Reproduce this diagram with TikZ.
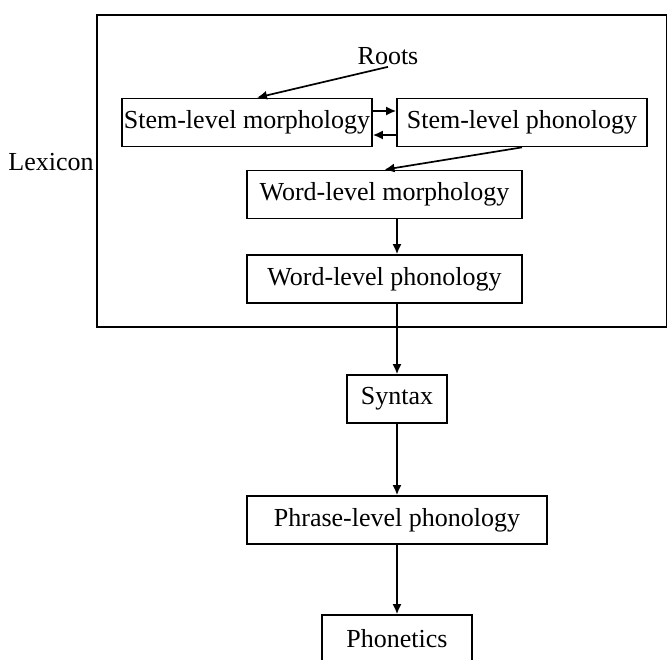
\documentclass[tikz,border=0pt]{standalone}
\usepackage{fontspec}
\setmainfont{Liberation Serif}
\usetikzlibrary{arrows.meta}
\begin{document}
\begin{tikzpicture}[x=1pt,y=-1pt,
    lvl/.style={draw,line width=1.7pt,inner sep=0pt,font=\fontsize{26}{30}\selectfont},
    lbl/.style={inner sep=2pt,font=\fontsize{26}{30}\selectfont},
    flow/.style={-{Latex[length=10pt,width=9pt]},line width=1.7pt}]
  \useasboundingbox (0,0) rectangle (667,659);
  % the lexicon frame
  \draw[line width=1.7pt] (97,15) rectangle (667,327);
  \node[lbl] (lexicon) at (51,162) {Lexicon};
  \node[lbl] (roots) at (388,56) {Roots};
  \node[lvl,minimum width=250pt,minimum height=48pt] (stemmorph) at (247,122.5) {Stem-level morphology};
  \node[lvl,minimum width=250pt,minimum height=48pt] (stemphon) at (522,122.5) {Stem-level phonology};
  \node[lvl,minimum width=275pt,minimum height=48pt] (wordmorph) at (384.5,194.5) {Word-level morphology};
  \node[lvl,minimum width=275pt,minimum height=48pt] (wordphon) at (384.5,279) {Word-level phonology};
  % below the lexicon
  \node[lvl,minimum width=100pt,minimum height=48pt] (syntax) at (397,399) {Syntax};
  \node[lvl,minimum width=300pt,minimum height=48pt] (phrase) at (397,520) {Phrase-level phonology};
  \node[lvl,minimum width=150pt,minimum height=48pt] (phonetics) at (397,639) {Phonetics};
  \draw[flow] (roots.south) -- ([xshift=10pt]stemmorph.north);
  \draw[flow] ([yshift=11.5pt]stemmorph.east) -- ([yshift=11.5pt]stemphon.west);
  \draw[flow] ([yshift=-12.5pt]stemphon.west) -- ([yshift=-12.5pt]stemmorph.east);
  \draw[flow] (stemphon.south) -- (wordmorph.north);
  \draw[flow] (wordmorph.south -| syntax.north) -- (wordphon.north -| syntax.north);
  \draw[flow] (wordphon.south -| syntax.north) -- (syntax.north);
  \draw[flow] (syntax) -- (phrase);
  \draw[flow] (phrase) -- (phonetics);
\end{tikzpicture}
\end{document}
